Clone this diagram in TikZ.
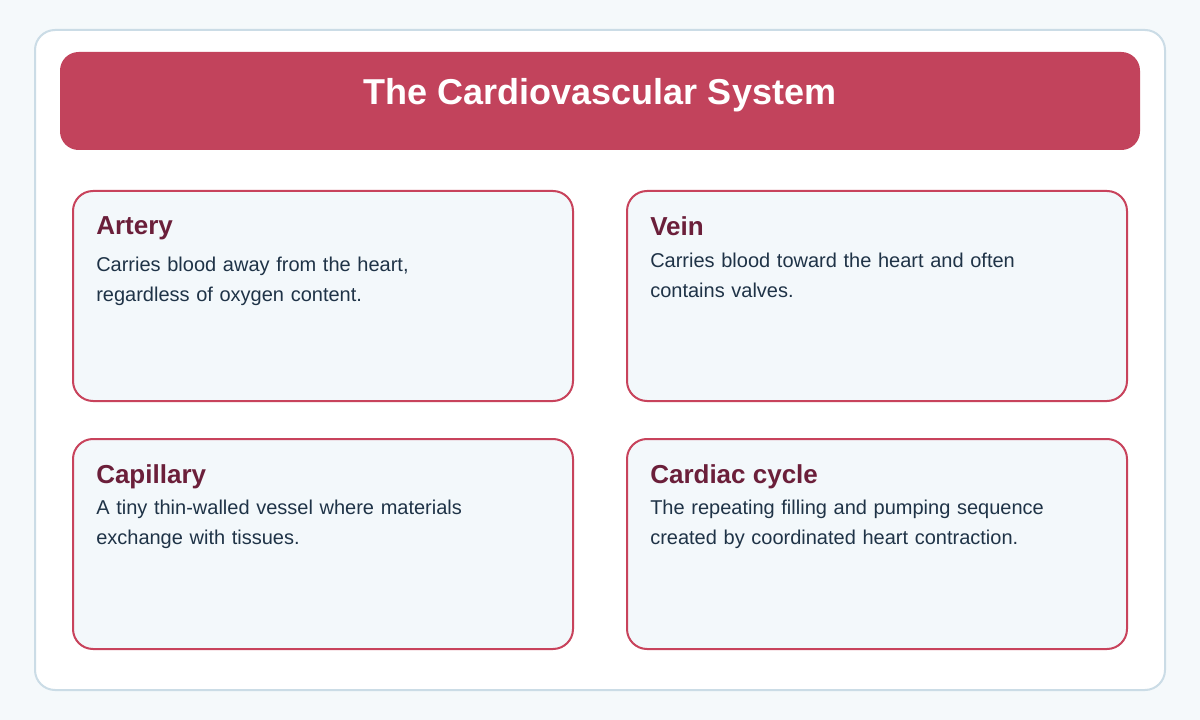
\documentclass[tikz,border=0pt]{standalone}
\usepackage{fontspec}
\setmainfont{Liberation Sans}
\usetikzlibrary{positioning}
\definecolor{pagebg}{HTML}{F5F9FB}
\definecolor{frameline}{HTML}{CBDCE6}
\definecolor{headred}{HTML}{C2435C}
\definecolor{cardfill}{HTML}{F3F8FB}
\definecolor{cardline}{HTML}{C8435C}
\definecolor{termcol}{HTML}{6B1F3A}
\definecolor{bodycol}{HTML}{1F3347}
\tikzset{
  card/.style={draw=cardline, line width=1.5pt, fill=cardfill, rounded corners=15pt},
  term/.style={anchor=north west, inner sep=0pt, font=\fontsize{19.5}{23}\selectfont\bfseries, text=termcol},
  desc/.style={anchor=north west, inner sep=0pt, align=left, text width=360pt,
    font=\fontsize{15}{22.5}\selectfont, text=bodycol}
}
\begin{document}
\begin{tikzpicture}[x=0.75pt, y=-0.75pt]
\fill[pagebg] (0,0) rectangle (1200,720);
\useasboundingbox (0,0) rectangle (1200,720);
\draw[frameline, line width=1.5pt, fill=white, rounded corners=15pt] (35,30) rectangle (1165,690);
\fill[headred, rounded corners=14pt] (60,52) rectangle (1140,150);
\node[text=white, font=\fontsize{27}{32}\selectfont\bfseries] (title) at (600,95) {The Cardiovascular System};
% cards
\draw[card] (73,191) rectangle (573,401);
\draw[card] (627,191) rectangle (1127,401);
\draw[card] (73,439) rectangle (573,649);
\draw[card] (627,439) rectangle (1127,649);
\node[term] (artery) at (96,216) {Artery};
\node[desc, below=13pt of artery.south west, anchor=north west] (arteryd) {Carries blood away from the heart,\\regardless of oxygen content.};
\node[term] (vein) at (650,216) {Vein};
\node[desc, below=13pt of vein.south west, anchor=north west] (veind) {Carries blood toward the heart and often\\contains valves.};
\node[term] (capillary) at (96,464) {Capillary};
\node[desc, below=8pt of capillary.south west, anchor=north west] (capillaryd) {A tiny thin-walled vessel where materials\\exchange with tissues.};
\node[term] (cycle) at (650,464) {Cardiac cycle};
\node[desc, below=8pt of cycle.south west, anchor=north west] (cycled) {The repeating filling and pumping sequence\\created by coordinated heart contraction.};
\end{tikzpicture}
\end{document}
